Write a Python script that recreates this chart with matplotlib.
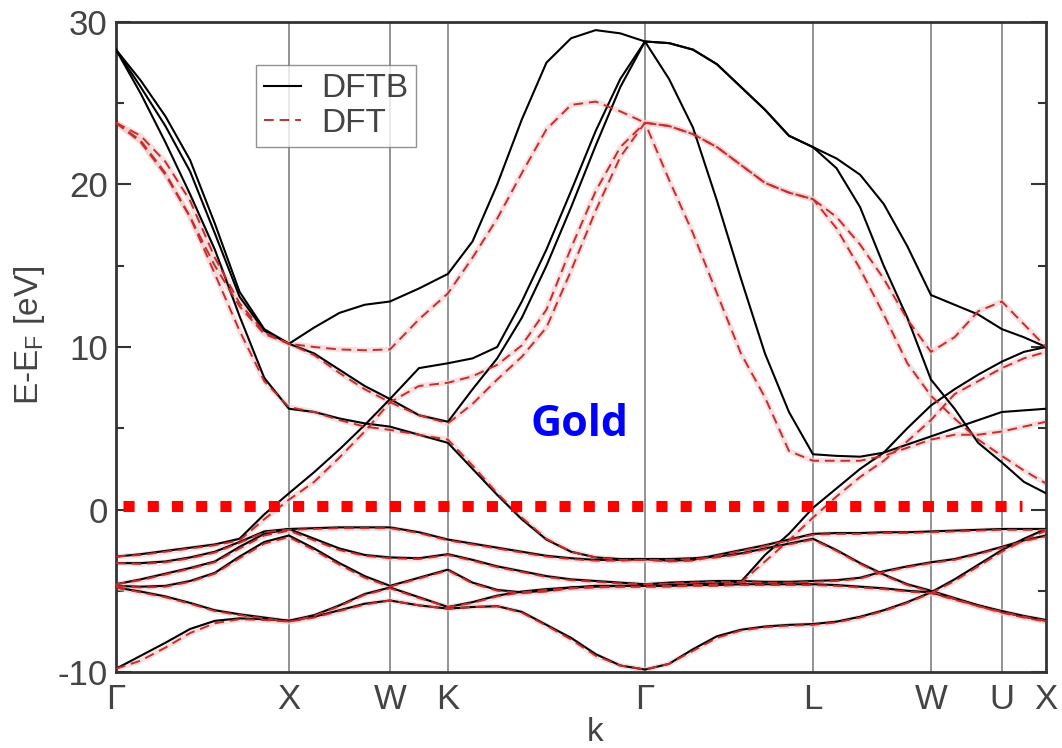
import numpy as np
import matplotlib
matplotlib.use('Agg')
import matplotlib.pyplot as plt
from matplotlib.ticker import MultipleLocator

plt.rcParams['font.family'] = ['Liberation Sans', 'DejaVu Sans']
plt.rcParams['mathtext.default'] = 'regular'
plt.rcParams['axes.unicode_minus'] = False

## high symmetry points along the fcc path
sym_labels = ['Γ', 'X', 'W', 'K', 'Γ', 'L', 'W', 'U', 'X']
sym_k = [0.0, 1.0, 1.584, 1.919, 3.058, 4.029, 4.711, 5.121, 5.376]
# number of sampled k points on each segment (ends included)
seg_points = [8, 5, 3, 9, 8, 6, 4, 3]

## DFTB bands (eV), one value per k point
dftb_a = [-9.8, -9.0, -8.2, -7.35, -6.85, -6.7, -6.75, -6.85,
          -6.6, -6.2, -5.8, -5.6,
          -5.9, -6.1,
          -6.0, -5.95, -6.3, -7.1, -7.9, -8.9, -9.6, -9.85,
          -9.5, -8.6, -7.8, -7.4, -7.2, -7.1, -7.05,
          -6.9, -6.6, -6.2, -5.7, -5.1,
          -4.3, -3.4, -2.5,
          -1.8, -1.2]
dftb_b = [-4.8, -5.05, -5.35, -5.75, -6.2, -6.45, -6.65, -6.85,
          -6.5, -5.9, -5.2, -4.8,
          -5.4, -6.0,
          -5.7, -5.3, -5.05, -4.9, -4.8, -4.75, -4.7, -4.7,
          -4.65, -4.6, -4.55, -4.45, -2.8, -1.5, 0.1,
          1.3, 2.5, 3.5, 5.0, 6.4,
          7.4, 8.3, 9.1,
          9.7, 10.0]
dftb_c = [-4.7, -4.75, -4.7, -4.4, -3.9, -2.9, -2.0, -1.6,
          -2.4, -3.3, -4.1, -4.7,
          -4.2, -3.7,
          -4.5, -4.95, -5.1, -5.0, -4.8, -4.7, -4.7, -4.7,
          -4.7, -4.65, -4.65, -4.6, -4.6, -4.6, -4.6,
          -4.65, -4.75, -4.85, -5.0, -5.1,
          -5.5, -5.9, -6.3,
          -6.6, -6.85]
dftb_d = [-4.6, -4.3, -3.95, -3.6, -3.2, -2.3, -1.5, -1.2,
          -1.8, -2.4, -2.8, -2.95,
          -3.0, -2.75,
          -3.1, -3.5, -3.8, -4.1, -4.3, -4.4, -4.5, -4.6,
          -4.5, -4.45, -4.4, -4.4, -4.45, -4.45, -4.4,
          -4.35, -4.2, -3.8, -3.5, -3.25,
          -3.05, -2.7, -2.3,
          -1.9, -1.6]
dftb_e = [-3.3, -3.3, -3.2, -2.95, -2.6, -2.0, -1.35, -1.2,
          -1.15, -1.1, -1.1, -1.1,
          -1.4, -1.85,
          -2.1, -2.35, -2.6, -2.85, -3.0, -3.1, -3.1, -3.05,
          -3.15, -3.1, -2.8, -2.5, -2.2, -1.85, -1.5,
          -1.45, -1.45, -1.4, -1.4, -1.35,
          -1.3, -1.25, -1.2,
          -1.2, -1.2]
dftb_f = [-2.9, -2.75, -2.55, -2.35, -2.15, -1.8, -0.3, 1.0,
          2.3, 3.7, 5.2, 6.8,
          8.7, 9.0,
          9.3, 10.0, 12.8, 16.0, 19.6, 23.3, 26.5, 28.8,
          28.7, 28.3, 27.4, 26.0, 24.6, 23.0, 22.3,
          21.0, 18.6, 15.0, 11.8, 8.0,
          6.2, 4.1, 2.9,
          1.7, 1.0]
dftb_g = [28.3, 25.6, 22.6, 19.4, 16.0, 11.9, 8.1, 6.2,
          6.0, 5.6, 5.3, 5.1,
          4.6, 4.1,
          2.5, 0.9, -0.6, -1.85, -2.6, -2.95, -3.05, -3.05,
          -3.05, -3.0, -2.9, -2.7, -2.4, -2.1, -1.8,
          -2.5, -3.3, -4.0, -4.6, -5.0,
          -5.45, -5.9, -6.25,
          -6.55, -6.8]
dftb_h = [28.3, 26.0, 23.6, 20.8, 17.0, 13.1, 11.0, 10.2,
          9.6, 8.6, 7.6, 6.8,
          5.8, 5.4,
          7.4, 9.3, 11.8, 15.0, 18.6, 22.4, 26.0, 28.8,
          26.5, 23.5, 19.0, 14.2, 9.6, 6.0, 3.4,
          3.3, 3.25, 3.5, 4.0, 4.5,
          5.0, 5.5, 6.0,
          6.1, 6.2]
dftb_i = [28.3, 26.4, 24.2, 21.5, 17.6, 13.4, 11.1, 10.2,
          11.2, 12.1, 12.6, 12.8,
          13.6, 14.5,
          16.5, 20.0, 24.0, 27.5, 29.0, 29.5, 29.3, 28.8,
          28.7, 28.3, 27.4, 26.0, 24.6, 23.0, 22.3,
          21.6, 20.6, 18.8, 16.2, 13.2,
          12.6, 12.0, 11.1,
          10.6, 10.0]

## DFT bands (eV)
dft_a = [-9.8, -9.3, -8.5, -7.6, -7.0, -6.75, -6.8, -6.9,
         -6.65, -6.25, -5.85, -5.6,
         -5.9, -6.1,
         -6.0, -5.95, -6.35, -7.15, -8.0, -9.0, -9.6, -9.85,
         -9.5, -8.7, -7.9, -7.45, -7.25, -7.15, -7.1,
         -6.95, -6.65, -6.25, -5.75, -5.15,
         -4.4, -3.5, -2.6,
         -1.9, -1.3]
dft_b = [-4.8, -5.1, -5.4, -5.8, -6.25, -6.5, -6.7, -6.9,
         -6.55, -5.95, -5.25, -4.85,
         -5.45, -6.0,
         -5.75, -5.35, -5.1, -4.95, -4.85, -4.8, -4.75, -4.75,
         -4.7, -4.65, -4.6, -4.5, -3.2, -1.9, -0.5,
         0.8, 2.0, 3.0, 4.2, 5.5,
         7.1, 7.9, 8.7,
         9.3, 9.7]
dft_c = [-4.7, -4.8, -4.75, -4.45, -3.95, -3.0, -2.1, -1.7,
         -2.5, -3.4, -4.2, -4.75,
         -4.25, -3.75,
         -4.55, -5.0, -5.15, -5.05, -4.85, -4.75, -4.75, -4.75,
         -4.75, -4.7, -4.7, -4.65, -4.65, -4.65, -4.65,
         -4.7, -4.8, -4.9, -5.05, -5.15,
         -5.55, -5.95, -6.35,
         -6.65, -6.9]
dft_d = [-4.6, -4.35, -4.0, -3.65, -3.25, -2.4, -1.6, -1.3,
         -1.9, -2.5, -2.85, -3.0,
         -3.05, -2.8,
         -3.15, -3.55, -3.85, -4.15, -4.35, -4.45, -4.55, -4.6,
         -4.55, -4.5, -4.45, -4.45, -4.5, -4.5, -4.45,
         -4.4, -4.25, -3.85, -3.55, -3.3,
         -3.1, -2.75, -2.35,
         -1.95, -1.65]
dft_e = [-3.3, -3.35, -3.25, -3.0, -2.65, -2.05, -1.4, -1.25,
         -1.2, -1.15, -1.15, -1.15,
         -1.45, -1.9,
         -2.15, -2.4, -2.65, -2.9, -3.05, -3.15, -3.15, -3.1,
         -3.2, -3.15, -2.85, -2.55, -2.25, -1.9, -1.55,
         -1.5, -1.5, -1.45, -1.45, -1.4,
         -1.35, -1.3, -1.25,
         -1.25, -1.25]
dft_f = [-2.9, -2.8, -2.6, -2.4, -2.2, -1.9, -0.6, 0.6,
         1.7, 3.2, 4.8, 6.6,
         7.6, 7.8,
         8.2, 8.9, 10.1, 12.3, 16.1, 19.6, 22.3, 23.8,
         23.6, 23.1, 22.3, 21.2, 20.1, 19.5, 19.1,
         17.3, 14.8, 12.0, 9.0, 7.0,
         5.6, 4.3, 3.3,
         2.4, 1.6]
dft_g = [23.8, 22.6, 20.6, 18.0, 14.5, 11.0, 7.9, 6.3,
         6.0, 5.5, 5.1, 4.9,
         4.6, 4.3,
         2.7, 1.0, -0.5, -1.8, -2.6, -2.95, -3.1, -3.1,
         -3.1, -3.05, -2.95, -2.75, -2.45, -2.15, -1.85,
         -2.55, -3.35, -4.05, -4.65, -5.05,
         -5.5, -5.95, -6.3,
         -6.6, -6.85]
dft_h = [23.8, 22.7, 20.7, 18.0, 15.0, 12.5, 10.8, 10.2,
         9.5, 8.4, 7.4, 6.6,
         5.8, 5.3,
         6.5, 8.0, 9.4, 11.2, 14.7, 18.4, 21.7, 23.8,
         20.3, 17.0, 13.3, 9.6, 6.9, 3.6, 3.0,
         3.0, 3.0, 3.3, 3.8, 4.3,
         4.6, 4.6, 4.8,
         5.1, 5.4]
dft_i = [23.8, 23.0, 21.4, 19.0, 15.5, 12.7, 10.9, 10.2,
         10.0, 9.85, 9.8, 9.85,
         11.7, 13.3,
         15.5, 17.9, 20.7, 23.4, 24.9, 25.1, 24.5, 23.8,
         23.6, 23.1, 22.3, 21.2, 20.1, 19.5, 19.1,
         18.0, 16.3, 14.2, 11.7, 9.7,
         10.6, 12.2, 12.8,
         11.4, 10.0]

dftb_bands = [dftb_a, dftb_b, dftb_c, dftb_d, dftb_e, dftb_f, dftb_g, dftb_h, dftb_i]
dft_bands = [dft_a, dft_b, dft_c, dft_d, dft_e, dft_f, dft_g, dft_h, dft_i]

# dotted marker line just above E_F
fermi_e = 0.2
fermi_k0 = 0.04
fermi_k1 = 5.237

# label inside the plot
gold_k = 2.682
gold_e = 5.24

## build the k axis from the segments
k = [sym_k[0]]
for i in range(len(seg_points)):
    pts = np.linspace(sym_k[i], sym_k[i + 1], seg_points[i])
    k.extend(pts[1:])
k = np.array(k)

fig = plt.figure(figsize=(10.62, 7.48), dpi=100)
ax = fig.add_axes([0.1092, 0.1016, 0.8757, 0.8690])

for kk in sym_k[1:-1]:
    ax.axvline(kk, color='#8a8a8a', lw=1.3, zorder=1)

# faint pink smear under the DFT curves, like in the scanned figure
for e in dft_bands:
    ax.plot(k, e, color='#f4caca', lw=4, alpha=0.6, zorder=2)
for e in dftb_bands:
    l1, = ax.plot(k, e, color='black', lw=1.5, zorder=3)
for e in dft_bands:
    l2, = ax.plot(k, e, color='#c03030', lw=1.4, linestyle=(0, (5, 3)), zorder=4)

ax.plot([fermi_k0, fermi_k1], [fermi_e, fermi_e], color='red', lw=8,
        linestyle=(0, (1, 1.18)), dash_capstyle='butt', zorder=5)

ax.text(gold_k, gold_e, 'Gold', color='#0000ff', fontsize=31, fontweight='bold',
        family='Open Sans', ha='center', va='center', zorder=6)

ax.set_xlim(sym_k[0], sym_k[-1])
ax.set_ylim(-10, 30)
ax.set_xticks(sym_k)
ax.set_xticklabels(sym_labels)
ax.set_yticks([-10, 0, 10, 20, 30])
ax.yaxis.set_minor_locator(MultipleLocator(5))

ax.tick_params(axis='x', length=0, labelsize=25, pad=8, labelcolor='#444444')
ax.tick_params(axis='y', which='both', direction='in', left=True, right=True,
               labelsize=25, pad=6, labelcolor='#444444', color='#333333', width=1.5)
ax.tick_params(axis='y', which='major', length=11)
ax.tick_params(axis='y', which='minor', length=6)
for s in ax.spines.values():
    s.set_linewidth(2)
    s.set_color('#333333')

ax.set_ylabel('E-E$_F$ [eV]', fontsize=24, color='#444444')
ax.yaxis.set_label_coords(-0.074, 0.518)
ax.set_xlabel('k', fontsize=24, color='#444444')
ax.xaxis.set_label_coords(0.515, -0.069)

leg = ax.legend([l1, l2], ['DFTB', 'DFT'], loc='upper left', bbox_to_anchor=(0.1505, 0.934),
                borderaxespad=0, fontsize=24, frameon=True, fancybox=False,
                edgecolor='#777777', handlelength=1.1, handletextpad=0.6,
                borderpad=0.25, labelspacing=0.1)
leg.get_frame().set_linewidth(1.0)
for t in leg.get_texts():
    t.set_color('#444444')

fig.savefig('out.png', dpi=100)
